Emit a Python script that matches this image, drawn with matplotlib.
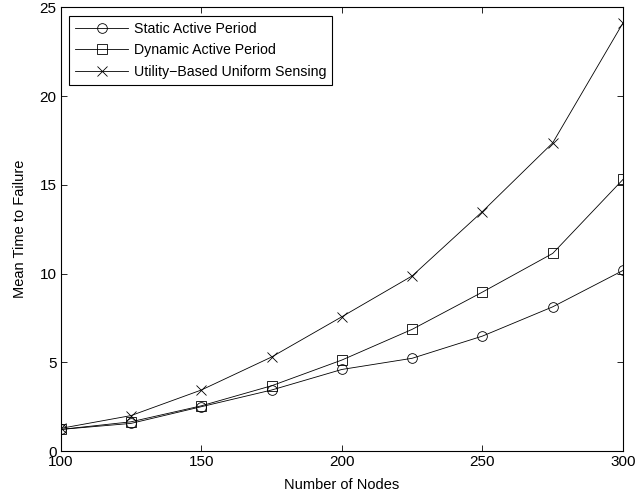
import matplotlib
matplotlib.use('Agg')
import matplotlib.pyplot as plt

plt.rcParams['font.family'] = ['Liberation Sans', 'DejaVu Sans']

nodes = [100, 125, 150, 175, 200, 225, 250, 275, 300]
static_active = [1.22, 1.56, 2.50, 3.44, 4.60, 5.23, 6.48, 8.13, 10.18]
dynamic_active = [1.22, 1.65, 2.55, 3.68, 5.13, 6.86, 8.96, 11.14, 15.31]
utility_uniform = [1.28, 2.00, 3.44, 5.30, 7.57, 9.87, 13.50, 17.37, 24.13]

labels = ['Static Active Period', 'Dynamic Active Period', 'Utility\u2212Based Uniform Sensing']
x_ticks = [100, 150, 200, 250, 300]
y_ticks = [0, 5, 10, 15, 20, 25]

fig = plt.figure(figsize=(6.38, 4.99), dpi=100)
ax = fig.add_axes([0.095, 0.096, 0.8815, 0.889])

ax.plot(nodes, static_active, color='black', linewidth=0.6, marker='o',
        markersize=7, markerfacecolor='none', markeredgewidth=0.6, label=labels[0])
ax.plot(nodes, dynamic_active, color='black', linewidth=0.6, marker='s',
        markersize=6.5, markerfacecolor='none', markeredgewidth=0.6, label=labels[1])
ax.plot(nodes, utility_uniform, color='black', linewidth=0.6, marker='x',
        markersize=6.5, markeredgewidth=0.6, label=labels[2])

ax.set_xlim(100, 300)
ax.set_ylim(0, 25)
ax.set_xticks(x_ticks)
ax.set_yticks(y_ticks)
ax.tick_params(direction='in', top=True, right=True, length=4, width=0.6,
               labelsize=11, pad=3)
for s in ax.spines.values():
    s.set_linewidth(0.8)

ax.set_xlabel('Number of Nodes', fontsize=10.5, labelpad=6)
ax.set_ylabel('Mean Time to Failure', fontsize=10.5, labelpad=9)

leg = ax.legend(loc='upper left', fontsize=10.2, handlelength=3.7, fancybox=False,
                framealpha=1, edgecolor='black', borderaxespad=0.6,
                labelspacing=0.5, handletextpad=0.4, borderpad=0.45)
leg.get_frame().set_linewidth(0.8)

fig.savefig('out.png', dpi=100)
